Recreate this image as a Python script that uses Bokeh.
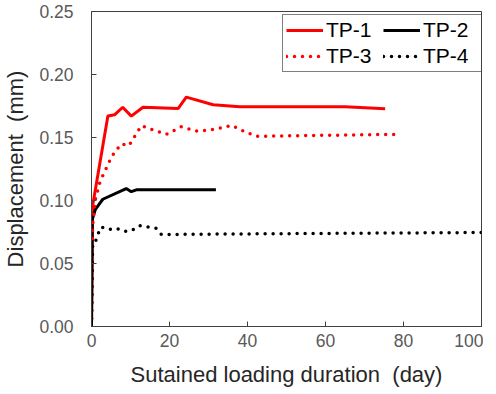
from bokeh.plotting import figure
from bokeh.models import Range1d, Legend, LegendItem, FixedTicker, NumeralTickFormatter
from bokeh.embed import file_html
from bokeh.resources import INLINE

# Data (days, displacement mm)
tp1_day = [0, 0.3, 4.2, 5.9, 8.0, 10.2, 13.2, 22.2, 24.3, 31.2, 38, 65, 75.3]
tp1_val = [0, 0.096, 0.167, 0.168, 0.174, 0.167, 0.174, 0.173, 0.182, 0.176, 0.1745, 0.1745, 0.1728]

tp2_day = [0, 0.2, 1.0, 2.9, 8.9, 10.2, 11.5, 31.9]
tp2_val = [0, 0.085, 0.093, 0.101, 0.1095, 0.107, 0.1085, 0.1085]

tp3_day = [0, 0.3, 1.0, 2.2, 5.2, 7.6, 9.6, 12.8, 14.9, 19.2, 23.0, 27.3, 31.6, 36.0, 38.0, 40.2, 42.5, 78.5]
tp3_val = [0, 0.08, 0.101, 0.115, 0.135, 0.145, 0.1435, 0.1595, 0.157, 0.1525, 0.1585, 0.1548, 0.1565, 0.1597, 0.1565, 0.1535, 0.151, 0.1525]

tp4_day = [0, 0.3, 1.0, 1.6, 2.5, 4.4, 6.3, 8.3, 10.2, 12.2, 14.3, 16.5, 17.9, 40, 100]
tp4_val = [0, 0.066, 0.067, 0.073, 0.079, 0.077, 0.078, 0.0755, 0.076, 0.080, 0.079, 0.078, 0.073, 0.0735, 0.0746]

x_ticks = [0, 20, 40, 60, 80, 100]
y_ticks = [0.00, 0.05, 0.10, 0.15, 0.20, 0.25]

FONT = "Liberation Sans"

p = figure(frame_width=390, frame_height=315, output_backend="svg", toolbar_location=None,
           x_range=Range1d(0, 100), y_range=Range1d(0, 0.25),
           min_border_left=88, min_border_right=2, min_border_top=11, min_border_bottom=62)
p.grid.visible = False
p.outline_line_color = "#404040"
p.outline_line_width = 1
p.background_fill_color = "white"
p.border_fill_color = "white"

for ax in (p.xaxis[0], p.yaxis[0]):
    ax.major_tick_in = 5
    ax.major_tick_out = 0
    ax.minor_tick_line_color = None
    ax.axis_line_color = "#404040"
    ax.major_tick_line_color = "#404040"
    ax.major_label_text_font = FONT
    ax.major_label_text_font_size = "17.5px"
    ax.major_label_text_color = "#595959"
    ax.axis_label_text_font = FONT
    ax.axis_label_text_font_size = "22px"
    ax.axis_label_text_font_style = "normal"
    ax.axis_label_text_color = "#262626"

p.xaxis.ticker = FixedTicker(ticks=x_ticks)
p.yaxis.ticker = FixedTicker(ticks=y_ticks)
p.yaxis.formatter = NumeralTickFormatter(format="0.00")
p.xaxis.axis_label = "Sutained loading duration\u00a0 (day)"
p.yaxis.axis_label = "Displacement\u00a0 (mm)"
p.xaxis.major_label_standoff = 7
p.yaxis.major_label_standoff = 18
p.xaxis.axis_label_standoff = 12
p.yaxis.axis_label_standoff = 8

r1 = p.line(tp1_day, tp1_val, line_color="#FF0000", line_width=3)
r2 = p.line(tp2_day, tp2_val, line_color="#000000", line_width=3)
r3 = p.line(tp3_day, tp3_val, line_color="#FF0000", line_width=3.5, line_dash="0 8", line_cap="round")
r4 = p.line(tp4_day, tp4_val, line_color="#000000", line_width=3.5, line_dash="0 8", line_cap="round")

legend = Legend(items=[LegendItem(label="TP-1", renderers=[r1]),
                       LegendItem(label="TP-3", renderers=[r3]),
                       LegendItem(label="TP-2", renderers=[r2]),
                       LegendItem(label="TP-4", renderers=[r4])],
                location=(191, 254), ncols=2)
legend.label_text_font = FONT
legend.label_text_font_size = "21px"
legend.label_text_color = "#000000"
legend.glyph_width = 37
legend.glyph_height = 20
legend.label_height = 20
legend.label_width = 55
legend.label_standoff = 3
legend.spacing = 2
legend.padding = 3
legend.margin = 0
legend.border_line_color = "#000000"
legend.border_line_width = 1
legend.background_fill_alpha = 1
p.add_layout(legend, "center")

open("out.html", "w").write(file_html(p, INLINE))
